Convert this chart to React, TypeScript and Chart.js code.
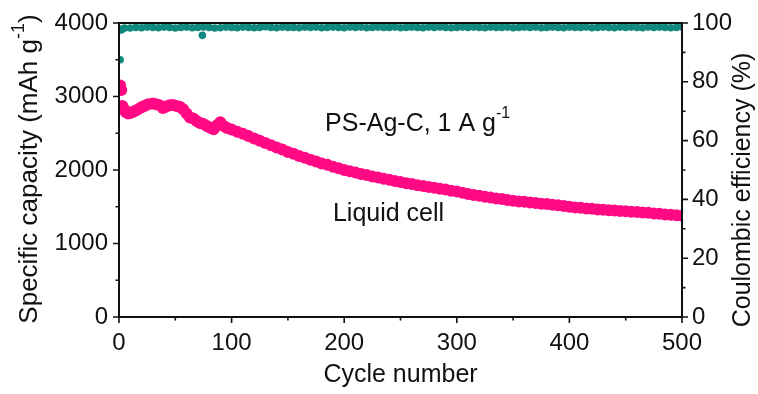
import React, { useEffect, useRef } from 'react';
import { Chart, registerables } from 'chart.js';

Chart.register(...registerables);

const FONT = "'Liberation Sans', Arial, Helvetica, sans-serif";
const INK = '#111111';
const PINK = '#ff0a84';
const TEAL = '#10897f';

// Specific capacity (mAh g-1) against cycle number
const capacityCycles = [
  1, 2, 3, 4, 5, 6, 8, 10, 12, 15, 18, 20, 23, 26, 30, 33, 36, 39, 42, 45,
  48, 51, 54, 57, 60, 63, 66, 69, 72, 75, 78, 81, 84, 87, 90, 93, 96, 100,
  105, 110, 115, 120, 125, 130, 135, 140, 145, 150,
  155, 160, 165, 170, 175, 180, 185, 190, 195, 200,
  205, 210, 215, 220, 225, 230, 235, 240, 245, 250,
  255, 260, 265, 270, 275, 280, 285, 290, 295, 300,
  305, 310, 315, 320, 325, 330, 335, 340, 345, 350,
  355, 360, 365, 370, 375, 380, 385, 390, 395, 400,
  405, 410, 415, 420, 425, 430, 435, 440, 445, 450,
  455, 460, 465, 470, 475, 480, 485, 490, 495, 500,
];
const capacityValues = [
  3150, 3090, 2870, 2840, 2810, 2790, 2770, 2775, 2790, 2810, 2835, 2855, 2875, 2895, 2905, 2895, 2880, 2845, 2865, 2880,
  2885, 2870, 2860, 2825, 2770, 2715, 2700, 2665, 2640, 2625, 2600, 2575, 2555, 2610, 2650, 2600, 2570, 2550,
  2520, 2492, 2462, 2428, 2397, 2366, 2338, 2305, 2278, 2246,
  2220, 2190, 2168, 2138, 2115, 2090, 2070, 2044, 2024, 2000,
  1984, 1966, 1944, 1932, 1910, 1898, 1880, 1866, 1850, 1837,
  1821, 1809, 1794, 1783, 1769, 1759, 1745, 1734, 1719, 1709,
  1690, 1674, 1659, 1649, 1636, 1626, 1613, 1604, 1591, 1583,
  1573, 1567, 1557, 1551, 1542, 1536, 1526, 1519, 1509, 1501,
  1491, 1486, 1477, 1472, 1464, 1459, 1451, 1448, 1441, 1438,
  1431, 1429, 1422, 1418, 1409, 1405, 1396, 1391, 1383, 1379,
];

// Coulombic efficiency (%) against cycle number
const ceCycles = [
  1, 2, 3, 5, 74,
  10, 15, 20, 25, 30, 35, 40, 45, 50, 55,
  60, 65, 70, 75, 80, 85, 90, 95, 100, 105,
  110, 115, 120, 125, 130, 135, 140, 145, 150, 155,
  160, 165, 170, 175, 180, 185, 190, 195, 200, 205,
  210, 215, 220, 225, 230, 235, 240, 245, 250, 255,
  260, 265, 270, 275, 280, 285, 290, 295, 300, 305,
  310, 315, 320, 325, 330, 335, 340, 345, 350, 355,
  360, 365, 370, 375, 380, 385, 390, 395, 400, 405,
  410, 415, 420, 425, 430, 435, 440, 445, 450, 455,
  460, 465, 470, 475, 480, 485, 490, 495, 500,
];
const ceValues = [
  87.5, 97.6, 98.0, 98.3, 95.8,
  98.3, 98.5, 98.4, 98.6, 98.5, 98.4, 98.6, 98.5, 98.3, 98.5,
  98.6, 98.4, 98.5, 98.6, 98.5, 98.3, 98.4, 98.6, 98.5, 98.4,
  98.6, 98.5, 98.4, 98.5, 98.7, 98.5, 98.4, 98.6, 98.5, 98.5,
  98.4, 98.6, 98.5, 98.6, 98.4, 98.5, 98.6, 98.5, 98.4, 98.6,
  98.5, 98.6, 98.4, 98.5, 98.6, 98.5, 98.5, 98.6, 98.4, 98.5,
  98.6, 98.5, 98.4, 98.6, 98.5, 98.6, 98.5, 98.4, 98.5, 98.6,
  98.5, 98.6, 98.5, 98.4, 98.6, 98.5, 98.5, 98.6, 98.4, 98.5,
  98.6, 98.5, 98.6, 98.4, 98.5, 98.6, 98.5, 98.4, 98.6, 98.5,
  98.5, 98.6, 98.4, 98.5, 98.6, 98.5, 98.4, 98.6, 98.5, 98.6,
  98.5, 98.4, 98.6, 98.5, 98.6, 98.5, 98.4, 98.5, 98.6,
];

// Axis ticks
const xMajorTicks = [0, 100, 200, 300, 400, 500];
const xMinorTicks = [50, 150, 250, 350, 450];
const capMajorTicks = [0, 1000, 2000, 3000, 4000];
const capMinorTicks = [500, 1500, 2500, 3500];
const ceMajorTicks = [0, 20, 40, 60, 80, 100];
const ceMinorTicks = [10, 30, 50, 70, 90];

// Labels
const xTitle = 'Cycle number';
const leftTitle = ['Specific capacity (mAh g', '-1', ')'];
const rightTitle = 'Coulombic efficiency (%)';
const noteMain = ['PS-Ag-C, 1 A g', '-1'];
const noteCell = 'Liquid cell';

type Piece = { text: string; sup?: boolean };

function drawRich(ctx: CanvasRenderingContext2D, pieces: Piece[], x: number, y: number, size: number, align: 'left' | 'center', supScale = 0.62) {
  const supSize = Math.round(size * supScale);
  const widths = pieces.map((p) => {
    ctx.font = `${p.sup ? supSize : size}px ${FONT}`;
    return ctx.measureText(p.text).width;
  });
  const total = widths.reduce((a, b) => a + b, 0);
  let cx = align === 'center' ? x - total / 2 : x;
  ctx.textAlign = 'left';
  ctx.textBaseline = 'middle';
  pieces.forEach((p, i) => {
    ctx.font = `${p.sup ? supSize : size}px ${FONT}`;
    ctx.fillText(p.text, cx, p.sup ? y - size * 0.42 : y);
    cx += widths[i];
  });
}

const framePlugin = {
  id: 'frameAndNotes',
  afterDatasetsDraw(chart: any) {
    const { ctx, chartArea, scales } = chart;
    const { left, right, top, bottom } = chartArea;
    ctx.save();
    ctx.strokeStyle = INK;
    ctx.lineWidth = 2;
    ctx.strokeRect(left, top, right - left, bottom - top);

    ctx.lineWidth = 1.6;
    ctx.beginPath();
    const seg = (x1: number, y1: number, x2: number, y2: number) => {
      ctx.moveTo(x1, y1);
      ctx.lineTo(x2, y2);
    };
    xMajorTicks.forEach((v) => { const px = scales.x.getPixelForValue(v); seg(px, bottom, px, bottom + 6); });
    xMinorTicks.forEach((v) => { const px = scales.x.getPixelForValue(v); seg(px, bottom, px, bottom + 3.5); });
    capMajorTicks.forEach((v) => { const py = scales.y.getPixelForValue(v); seg(left, py, left - 6, py); });
    capMinorTicks.forEach((v) => { const py = scales.y.getPixelForValue(v); seg(left, py, left - 3.5, py); });
    ceMajorTicks.forEach((v) => { const py = scales.y1.getPixelForValue(v); seg(right, py, right + 6, py); });
    ceMinorTicks.forEach((v) => { const py = scales.y1.getPixelForValue(v); seg(right, py, right + 3.5, py); });
    ctx.stroke();
    ctx.restore();
  },
  afterDraw(chart: any) {
    const { ctx, chartArea, scales } = chart;
    ctx.save();
    ctx.fillStyle = INK;

    // left axis title, reading upward
    ctx.save();
    ctx.translate(30, 169);
    ctx.rotate(-Math.PI / 2);
    drawRich(ctx, [{ text: leftTitle[0] }, { text: leftTitle[1], sup: true }, { text: leftTitle[2] }], 0, 0, 26, 'center', 0.7);
    ctx.restore();

    // right axis title, reading upward
    ctx.save();
    ctx.translate(743, (chartArea.top + chartArea.bottom) / 2 + 20);
    ctx.rotate(-Math.PI / 2);
    drawRich(ctx, [{ text: rightTitle }], 0, 0, 25, 'center');
    ctx.restore();

    // notes inside the plot
    const nx = scales.x.getPixelForValue(183);
    const ny = scales.y.getPixelForValue(2630);
    drawRich(ctx, [{ text: noteMain[0] }, { text: noteMain[1], sup: true }], nx, ny, 25, 'left');
    const lx = scales.x.getPixelForValue(190);
    const ly = scales.y.getPixelForValue(1405);
    drawRich(ctx, [{ text: noteCell }], lx, ly, 25, 'left');
    ctx.restore();
  },
};

export default function App() {
  const canvasRef = useRef<HTMLCanvasElement | null>(null);

  useEffect(() => {
    document.body.style.margin = '0';
    const canvas = canvasRef.current;
    if (!canvas) return;

    const capacityPoints = capacityCycles.map((c, i) => ({ x: c, y: capacityValues[i] }));
    const cePoints = ceCycles.map((c, i) => ({ x: c, y: ceValues[i] }));

    const tickFont = { family: FONT, size: 24 };
    const plain = (v: any) => String(v);

    const chart = new Chart(canvas, {
      type: 'scatter',
      data: {
        datasets: [
          {
            label: 'Specific capacity',
            data: capacityPoints,
            yAxisID: 'y',
            backgroundColor: PINK,
            borderColor: PINK,
            borderWidth: 0,
            pointRadius: 6,
            showLine: false,
          },
          {
            label: 'Coulombic efficiency',
            data: cePoints,
            yAxisID: 'y1',
            backgroundColor: TEAL,
            borderColor: TEAL,
            borderWidth: 0,
            pointRadius: 3.8,
            showLine: false,
          },
        ],
      },
      options: {
        responsive: false,
        animation: false,
        events: [],
        layout: { padding: { top: 23, left: 0, right: 0, bottom: 0 } },
        plugins: {
          legend: { display: false },
          tooltip: { enabled: false },
        },
        scales: {
          x: {
            type: 'linear',
            min: 0,
            max: 500,
            afterFit: (s: any) => { s.height = 77; },
            afterBuildTicks: (s: any) => { s.ticks = xMajorTicks.map((v) => ({ value: v })); },
            ticks: { font: tickFont, color: INK, padding: 6, maxRotation: 0, callback: plain },
            grid: { display: true, drawOnChartArea: false, drawTicks: true, tickLength: 6, color: 'rgba(0,0,0,0)' },
            border: { display: false },
            title: { display: true, text: xTitle, color: INK, font: { family: FONT, size: 25 }, padding: { top: 0, bottom: 4 } },
          },
          y: {
            type: 'linear',
            position: 'left',
            min: 0,
            max: 4000,
            afterFit: (s: any) => { s.width = 119; },
            afterBuildTicks: (s: any) => { s.ticks = capMajorTicks.map((v) => ({ value: v })); },
            ticks: { font: tickFont, color: INK, padding: 5, callback: plain },
            grid: { display: true, drawOnChartArea: false, drawTicks: true, tickLength: 6, color: 'rgba(0,0,0,0)' },
            border: { display: false },
          },
          y1: {
            type: 'linear',
            position: 'right',
            min: 0,
            max: 100,
            afterFit: (s: any) => { s.width = 76; },
            afterBuildTicks: (s: any) => { s.ticks = ceMajorTicks.map((v) => ({ value: v })); },
            ticks: { font: tickFont, color: INK, padding: 4, callback: plain },
            grid: { display: true, drawOnChartArea: false, drawTicks: true, tickLength: 6, color: 'rgba(0,0,0,0)' },
            border: { display: false },
          },
        },
      },
      plugins: [framePlugin],
    } as any);

    return () => chart.destroy();
  }, []);

  return (
    <div style={{ width: 758, height: 394, background: '#ffffff' }}>
      <canvas ref={canvasRef} width={758} height={394} style={{ display: 'block', width: 758, height: 394 }} />
    </div>
  );
}
